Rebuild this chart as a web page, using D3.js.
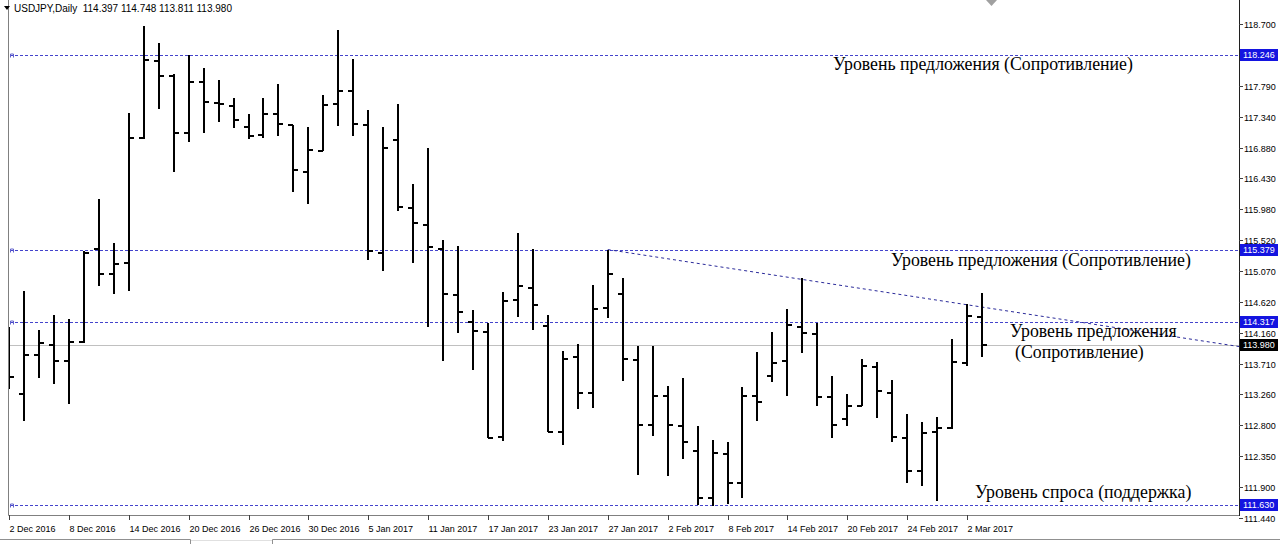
<!DOCTYPE html>
<html><head><meta charset="utf-8">
<script src="https://cdn.jsdelivr.net/npm/d3@7"></script>
<style>
body{margin:0;background:#fff;overflow:hidden;}
svg{display:block;}
</style>
</head><body>
<svg id="chart" width="1280" height="544"></svg>
<script>
// ---------------- DATA ----------------
const dates = [
  "2 Dec 2016","5 Dec 2016","6 Dec 2016","7 Dec 2016","8 Dec 2016","9 Dec 2016",
  "12 Dec 2016","13 Dec 2016","14 Dec 2016","15 Dec 2016","16 Dec 2016",
  "19 Dec 2016","20 Dec 2016","21 Dec 2016","22 Dec 2016","23 Dec 2016",
  "26 Dec 2016","27 Dec 2016","28 Dec 2016","29 Dec 2016","30 Dec 2016",
  "2 Jan 2017","3 Jan 2017","4 Jan 2017","5 Jan 2017","6 Jan 2017",
  "9 Jan 2017","10 Jan 2017","11 Jan 2017","12 Jan 2017","13 Jan 2017",
  "16 Jan 2017","17 Jan 2017","18 Jan 2017","19 Jan 2017","20 Jan 2017",
  "23 Jan 2017","24 Jan 2017","25 Jan 2017","26 Jan 2017","27 Jan 2017",
  "30 Jan 2017","31 Jan 2017","1 Feb 2017","2 Feb 2017","3 Feb 2017",
  "6 Feb 2017","7 Feb 2017","8 Feb 2017","9 Feb 2017","10 Feb 2017",
  "13 Feb 2017","14 Feb 2017","15 Feb 2017","16 Feb 2017","17 Feb 2017",
  "20 Feb 2017","21 Feb 2017","22 Feb 2017","23 Feb 2017","24 Feb 2017",
  "27 Feb 2017","28 Feb 2017","1 Mar 2017","2 Mar 2017","3 Mar 2017"
];
const openP = [
  113.85,113.26,113.84,113.98,113.75,114.03,115.39,115.02,115.19,117.03,118.16,
  117.94,117.10,117.85,117.54,117.50,117.18,117.07,117.38,117.22,116.52,
  116.84,117.52,117.72,117.22,115.34,117.00,116.00,115.75,115.40,114.71,
  114.32,114.17,112.63,114.64,114.82,114.26,112.71,113.80,113.27,114.53,
  114.73,113.76,112.80,113.23,112.79,112.42,111.73,112.38,111.95,113.23,
  113.52,113.74,114.24,114.15,113.22,112.89,113.09,113.66,113.28,112.62,
  112.13,112.70,112.76,113.72,114.397
];
const highP = [
  114.24,114.77,114.20,114.42,114.37,115.37,116.13,115.48,117.39,118.67,118.42,
  117.96,118.25,118.06,117.87,117.61,117.37,117.61,117.82,117.22,117.19,
  117.66,118.61,118.18,117.44,117.19,117.53,116.35,116.88,115.52,115.44,
  114.49,114.30,114.76,115.63,115.40,114.43,113.89,113.99,114.87,115.38,
  114.96,113.97,113.97,113.38,113.50,112.79,112.59,112.55,113.36,113.88,
  114.17,114.51,114.97,114.31,113.52,113.26,113.78,113.73,113.47,112.97,
  112.85,112.92,114.07,114.59,114.748
];
const lowP = [
  113.33,112.87,113.50,113.41,113.12,114.01,114.85,114.73,114.77,117.01,117.45,
  116.53,116.97,117.10,117.26,117.17,117.01,117.03,117.05,116.23,116.05,
  116.83,117.20,117.05,115.23,115.07,115.95,115.19,114.25,113.75,114.16,
  113.62,112.61,112.57,114.39,114.20,112.70,112.51,113.04,113.05,114.38,
  113.45,112.07,112.64,112.05,112.31,111.63,111.61,111.65,111.74,112.86,
  113.44,113.24,113.86,113.08,112.62,112.79,113.09,112.91,112.55,111.95,
  111.91,111.69,112.75,113.68,113.811
];
const closeP = [
  113.51,113.84,114.01,113.75,114.03,115.33,115.02,115.18,117.03,118.17,117.94,
  117.10,117.85,117.55,117.52,117.29,117.06,117.38,117.23,116.55,116.85,
  117.51,117.72,117.23,115.36,116.88,116.01,115.77,115.43,114.73,114.47,
  114.19,112.62,114.63,114.85,114.57,112.71,113.78,113.28,114.51,115.03,
  113.77,112.80,113.23,112.80,112.56,111.73,112.39,111.95,113.24,113.14,
  113.72,114.27,114.16,113.22,112.80,113.08,113.67,113.31,112.63,112.13,
  112.69,112.76,113.73,114.41,113.980
];
const tickLabels = [
  "2 Dec 2016","8 Dec 2016","14 Dec 2016","20 Dec 2016","26 Dec 2016","30 Dec 2016",
  "5 Jan 2017","11 Jan 2017","17 Jan 2017","23 Jan 2017","27 Jan 2017",
  "2 Feb 2017","8 Feb 2017","14 Feb 2017","20 Feb 2017","24 Feb 2017","2 Mar 2017"
];
const priceTicks = [118.700,117.790,117.340,116.880,116.430,115.980,115.520,115.070,
  114.620,114.160,113.710,113.260,112.800,112.350,111.900,111.440];
const levelPrices = [118.246,115.379,114.317,111.630];
const lastPrice = 113.980;
const trendDates = ["27 Jan 2017","3 Mar 2017"];
const trendPrices = [115.385,114.54];
const headerSymbol = "USDJPY,Daily";
const headerValues = [114.397,114.748,113.811,113.980];
const annotationTexts = [
  "Уровень предложения (Сопротивление)",
  "Уровень предложения (Сопротивление)",
  "Уровень предложения",
  "(Сопротивление)",
  "Уровень спроса (поддержка)"
];

// ---------------- LAYOUT ----------------
const W = 1280, H = 544;
const plotL = 8, plotR = 1239, plotT = 0, plotB = 515;
const svg = d3.select("#chart");
const x = d3.scalePoint().domain(dates).range([9, 982]);
const y = d3.scaleLinear().domain([111.44, 118.70]).range([518, 24]);
const fmt = d3.format(".3f");
const axisFont = "'Liberation Sans', Arial, sans-serif";

svg.append("rect").attr("width", W).attr("height", H).attr("fill", "#fff");

svg.append("defs").append("clipPath").attr("id", "plotclip")
  .append("rect").attr("x", plotL + 1).attr("y", plotT).attr("width", plotR - plotL - 1).attr("height", plotB - plotT);

const plot = svg.append("g").attr("clip-path", "url(#plotclip)");

// bid line
plot.append("line")
  .attr("x1", plotL).attr("x2", plotR)
  .attr("y1", Math.round(y(lastPrice)) + 0.5).attr("y2", Math.round(y(lastPrice)) + 0.5)
  .attr("stroke", "#c0c0c0").attr("stroke-width", 1);

// level lines
levelPrices.forEach(p => {
  const yy = Math.round(y(p)) + 0.5;
  plot.append("line").attr("x1", plotL + 2).attr("x2", plotR)
    .attr("y1", yy).attr("y2", yy)
    .attr("stroke", "#4444cc").attr("stroke-width", 1).attr("stroke-dasharray", "3,2");
  plot.append("path").attr("d", `M${plotL+2.5},${yy+2} V${yy-1.5} H${plotL+5.5} V${yy+2}`)
    .attr("fill", "none").attr("stroke", "#6060cc").attr("stroke-width", 1);
});

// trend line (ray extended to right edge)
{
  const x1 = x(trendDates[0]), y1 = y(trendPrices[0]);
  const x2 = x(trendDates[1]), y2 = y(trendPrices[1]);
  const slope = (y2 - y1) / (x2 - x1);
  const yEnd = y1 + slope * (plotR - x1);
  plot.append("line").attr("x1", x1).attr("y1", y1).attr("x2", plotR).attr("y2", yEnd)
    .attr("stroke", "#2a2a9a").attr("stroke-width", 1).attr("stroke-dasharray", "3,3");
}

// OHLC bars
const bars = plot.append("g").attr("shape-rendering", "crispEdges").attr("stroke", "#000").attr("stroke-width", 2);
dates.forEach((d, i) => {
  const cx = Math.round(x(d));
  bars.append("line").attr("x1", cx).attr("x2", cx)
    .attr("y1", Math.round(y(highP[i]))).attr("y2", Math.round(y(lowP[i])));
  const yo = Math.round(y(openP[i]));
  bars.append("line").attr("x1", cx - 5).attr("x2", cx).attr("y1", yo).attr("y2", yo);
  const yc = Math.round(y(closeP[i]));
  bars.append("line").attr("x1", cx).attr("x2", cx + 5).attr("y1", yc).attr("y2", yc);
});

// annotations
const annFont = "'Liberation Serif', 'Times New Roman', serif";
const annPos = [[833, 70], [891, 266], [1010, 337], [1015, 358], [975, 498]];
annotationTexts.forEach((t, i) => {
  svg.append("text").attr("x", annPos[i][0]).attr("y", annPos[i][1])
    .attr("font-family", annFont).attr("font-size", "17.8px").attr("fill", "#000").text(t);
});

// frame
svg.append("path").attr("d", `M${plotL+0.5},0 V${plotB+0.5} H${plotR+0.5} V0`)
  .attr("fill", "none").attr("stroke", "#808080").attr("stroke-width", 1);
svg.append("line").attr("x1", plotR + 0.5).attr("x2", plotR + 0.5).attr("y1", 0).attr("y2", plotB + 1)
  .attr("stroke", "#202020").attr("stroke-width", 1);

// x axis ticks + labels
tickLabels.forEach((lab, k) => {
  const tx = Math.round(x(dates[k * 4])) + 0.5;
  svg.append("line").attr("x1", tx).attr("x2", tx).attr("y1", plotB).attr("y2", plotB + 5)
    .attr("stroke", "#404040").attr("stroke-width", 1);
  svg.append("text").attr("x", tx).attr("y", plotB + 17)
    .attr("font-family", axisFont).attr("font-size", "9px").attr("fill", "#000").text(lab);
});

// y axis ticks + labels
priceTicks.forEach(p => {
  const ty = Math.round(y(p)) + 0.5;
  svg.append("line").attr("x1", plotR).attr("x2", plotR + 4).attr("y1", ty).attr("y2", ty)
    .attr("stroke", "#404040").attr("stroke-width", 1);
  svg.append("text").attr("x", plotR + 5).attr("y", ty).attr("dy", "0.35em")
    .attr("font-family", axisFont).attr("font-size", "9px").attr("fill", "#000").text(fmt(p));
});
function priceBox(p, bg) {
  const ty = Math.round(y(p));
  svg.append("rect").attr("x", plotR + 1).attr("y", ty - 6).attr("width", 38).attr("height", 12).attr("fill", bg);
  svg.append("text").attr("x", plotR + 4).attr("y", ty).attr("dy", "0.35em")
    .attr("font-family", axisFont).attr("font-size", "9px").attr("fill", "#fff").text(fmt(p));
}
levelPrices.forEach(p => priceBox(p, "#1414e0"));
priceBox(lastPrice, "#000");

// header
svg.append("path").attr("d", "M4,6 L10,6 L7,10 Z").attr("fill", "#000");
svg.append("text").attr("x", 14).attr("y", 12)
  .attr("font-family", axisFont).attr("font-size", "10px").attr("fill", "#000")
  .attr("xml:space", "preserve")
  .text(headerSymbol + "  " + headerValues.map(fmt).join(" "));

// shift marker
svg.append("path").attr("d", "M986,0 L997,0 L991.5,6 Z").attr("fill", "#a0a0a0");

// bottom tab bar
svg.append("path").attr("d", "M0,539.5 H190.5 V544 M272.5,544 V539.5 H1280")
  .attr("fill", "none").attr("stroke", "#909090").attr("stroke-width", 1);
svg.append("path").attr("d", "M191,540.5 H272")
  .attr("fill", "none").attr("stroke", "#e0e0e0").attr("stroke-width", 1);
</script>
</body></html>
